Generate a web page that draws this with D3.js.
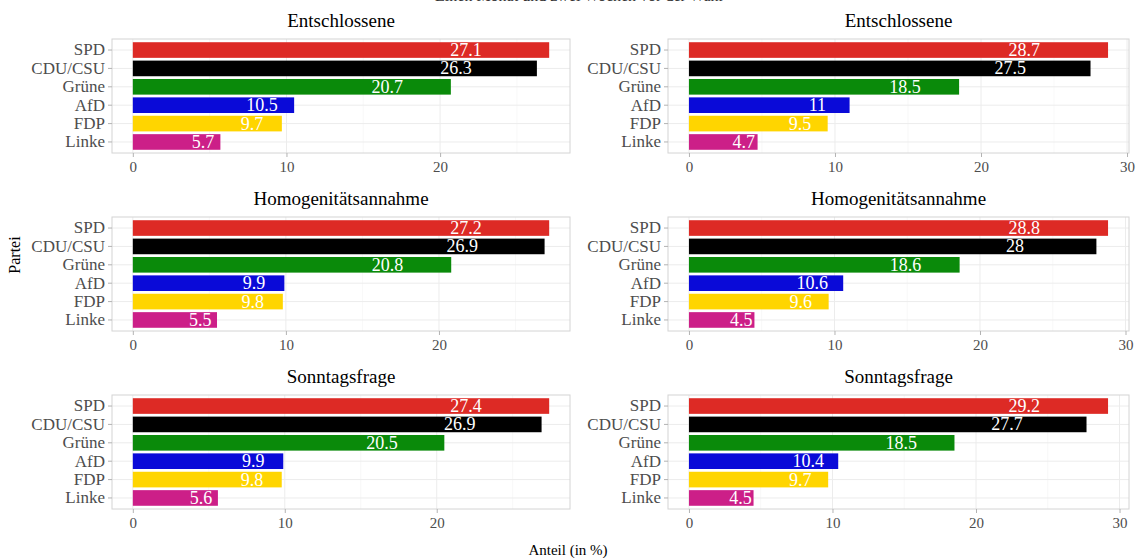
<!DOCTYPE html>
<html>
<head>
    <meta charset="utf-8">
    <title>Anteil je Partei</title>
    <style type="text/css">
        body { margin: 0; background: #fff; }
        svg { font-family: "Liberation Serif", "DejaVu Serif", serif; }
        .axis path { display: none; }
        .axis line { stroke: #b3b3b3; }
        .axis text { fill: #4d4d4d; font-size: 15px; font-family: "Liberation Serif", serif; }
        .yAxis text { font-size: 17px; }
    </style>
</head>
<body>
<script src="https://cdn.jsdelivr.net/npm/d3@7"></script>
<script type="text/javascript">
    /*=========DATA=========*/
    var parties = ["SPD", "CDU/CSU", "Grüne", "AfD", "FDP", "Linke"];
    var partyColors = ["#dd2a25", "#000000", "#0a8a0a", "#0a0ad8", "#ffd500", "#cc1f88"];
    var panelTitles = ["Entschlossene", "Homogenitätsannahme", "Sonntagsfrage"];
    var leftValues = [
        [27.1, 26.3, 20.7, 10.5, 9.7, 5.7],
        [27.2, 26.9, 20.8, 9.9, 9.8, 5.5],
        [27.4, 26.9, 20.5, 9.9, 9.8, 5.6]
    ];
    var rightValues = [
        [28.7, 27.5, 18.5, 11, 9.5, 4.7],
        [28.8, 28, 18.6, 10.6, 9.6, 4.5],
        [29.2, 27.7, 18.5, 10.4, 9.7, 4.5]
    ];
    var majorTicks = [0, 10, 20, 30];
    var minorTicks = [5, 15, 25];
    var mainTitle = "Einen Monat und zwei Wochen vor der Wahl";

    /*=====SIZE SVG======*/
    var svgWidth = 1138;
    var svgHeight = 558;
    var columns = [{ x0: 112, x1: 570, values: leftValues }, { x0: 668, x1: 1129, values: rightValues }];
    var rowTops = [39, 217, 395];
    var panelHeight = 114;

    var svg = d3.select("body").append("svg").attr("width", svgWidth).attr("height", svgHeight);

    // 面板
    columns.forEach(function (col) {
        col.values.forEach(function (vals, r) {
            var top = rowTops[r];
            var maxV = d3.max(vals);
            var x = d3.scaleLinear().domain([-0.05 * maxV, maxV * 1.05]).range([col.x0, col.x1]);
            var y = d3.scaleBand().domain(parties).range([top, top + panelHeight])
                .paddingInner(0.15).paddingOuter(0.175);
            var dom = x.domain();
            var inDom = function (t) { return t >= dom[0] && t <= dom[1]; };

            var g = svg.append("g").attr("class", "panel");

            // 网格
            g.selectAll(".minor").data(minorTicks.filter(inDom)).enter().append("line")
                .attr("x1", d => x(d)).attr("x2", d => x(d))
                .attr("y1", top).attr("y2", top + panelHeight)
                .attr("stroke", "#f4f4f4").attr("stroke-width", 0.6);
            g.selectAll(".major").data(majorTicks.filter(inDom)).enter().append("line")
                .attr("x1", d => x(d)).attr("x2", d => x(d))
                .attr("y1", top).attr("y2", top + panelHeight)
                .attr("stroke", "#ececec").attr("stroke-width", 1);
            g.selectAll(".hgrid").data(parties).enter().append("line")
                .attr("x1", col.x0).attr("x2", col.x1)
                .attr("y1", d => y(d) + y.bandwidth() / 2).attr("y2", d => y(d) + y.bandwidth() / 2)
                .attr("stroke", "#ececec").attr("stroke-width", 1);

            // 柱子
            g.selectAll(".bar").data(vals).enter().append("rect")
                .attr("x", x(0))
                .attr("y", (d, i) => y(parties[i]))
                .attr("width", d => x(d) - x(0))
                .attr("height", y.bandwidth())
                .attr("fill", (d, i) => partyColors[i]);

            // 数据标注
            g.selectAll(".label").data(vals).enter().append("text")
                .attr("x", d => x(d * 0.8))
                .attr("y", (d, i) => y(parties[i]) + y.bandwidth() / 2 + 6)
                .attr("text-anchor", "middle")
                .attr("fill", "#ffffff")
                .attr("font-size", "18px")
                .text(d => d);

            // 边框
            g.append("rect").attr("x", col.x0).attr("y", top)
                .attr("width", col.x1 - col.x0).attr("height", panelHeight)
                .attr("fill", "none").attr("stroke", "#d4d4d4").attr("stroke-width", 1);

            // 坐标轴
            g.append("g").attr("class", "x axis")
                .attr("transform", "translate(0," + (top + panelHeight) + ")")
                .call(d3.axisBottom(x).tickValues(majorTicks.filter(inDom)).tickSize(4).tickPadding(4));
            g.append("g").attr("class", "y axis yAxis")
                .attr("transform", "translate(" + col.x0 + ",0)")
                .call(d3.axisLeft(y).tickSize(4).tickPadding(3));

            // 标题
            g.append("text")
                .attr("x", (col.x0 + col.x1) / 2).attr("y", top - 12)
                .attr("text-anchor", "middle").attr("font-size", "19px").attr("fill", "#000")
                .text(panelTitles[r]);
        });
    });

    // 轴标题
    svg.append("text").attr("x", 568).attr("y", 555)
        .attr("text-anchor", "middle").attr("font-size", "15px").attr("fill", "#000")
        .text("Anteil (in %)");
    svg.append("text").attr("transform", "translate(20,255) rotate(-90)")
        .attr("text-anchor", "middle").attr("font-size", "16px").attr("fill", "#000")
        .text("Partei");
    svg.append("text").attr("x", 579).attr("y", 1)
        .attr("text-anchor", "middle").attr("font-size", "16px").attr("fill", "#333")
        .text(mainTitle);
</script>
</body>
</html>
